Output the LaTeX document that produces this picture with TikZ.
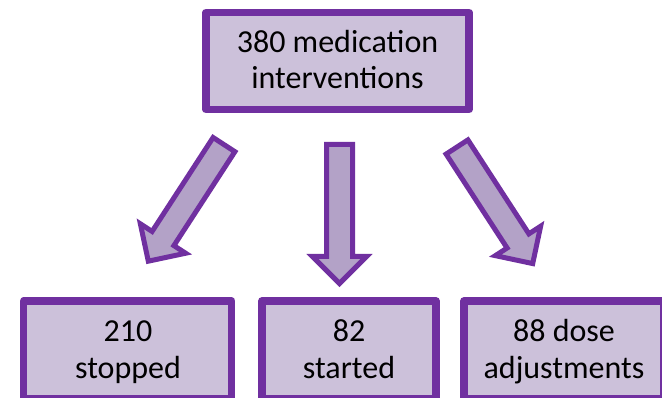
\documentclass[tikz,border=0pt]{standalone}
\usepackage{fontspec}
\setmainfont{Carlito}
\definecolor{boxline}{HTML}{7030A0}
\definecolor{boxfill}{HTML}{CCC1DA}
\definecolor{arrowfill}{HTML}{B3A2C7}
\tikzset{
  box/.style={draw=boxline, fill=boxfill, line width=7.5pt, line join=round,
    rectangle, inner sep=0pt, outer sep=0pt},
  label/.style={anchor=base, inner sep=0pt, outer sep=0pt,
    font=\fontsize{32}{36}\selectfont, text=black},
  blockarrow/.style={draw=boxline, fill=arrowfill, line width=5pt, line join=miter, miter limit=10}
}
\newcommand{\blockarrowpath}{(-13,0) -- (13,0) -- (13,112) -- (27,112) -- (0,139) -- (-27,112) -- (-13,112) -- cycle}
\begin{document}
\begin{tikzpicture}[x=1pt, y=-1pt]
\useasboundingbox (0,0) rectangle (662,398);
\clip (0,0) rectangle (662,398);
% boxes
\node[box, minimum width=263pt, minimum height=97pt] (top) at (337.5,61) {};
\node[box, minimum width=208pt, minimum height=98pt] (b1) at (127.7,350) {};
\node[box, minimum width=174pt, minimum height=98pt] (b2) at (349,350) {};
\node[box, minimum width=200pt, minimum height=98pt] (b3) at (564,350) {};
% texts
\node[label] (t1) at (337.5,52.7) {380 medication};
\node[label] (t2) at (337.5,88.3) {interventions};
\node[label] (l1a) at (128,341.7) {210};
\node[label] (l1b) at (128,378.3) {stopped};
\node[label] (l2a) at (349,341.7) {82};
\node[label] (l2b) at (349,378.3) {started};
\node[label] (l3a) at (564,341.7) {88 dose};
\node[label] (l3b) at (564,378.3) {adjustments};
% block arrows
\begin{scope}[shift={(224,144.6)}, rotate=-33]
  \path[blockarrow] \blockarrowpath;
\end{scope}
\begin{scope}[shift={(339.5,144.5)}]
  \path[blockarrow] \blockarrowpath;
\end{scope}
\begin{scope}[shift={(457,147)}, rotate=33]
  \path[blockarrow] \blockarrowpath;
\end{scope}
\end{tikzpicture}
\end{document}
